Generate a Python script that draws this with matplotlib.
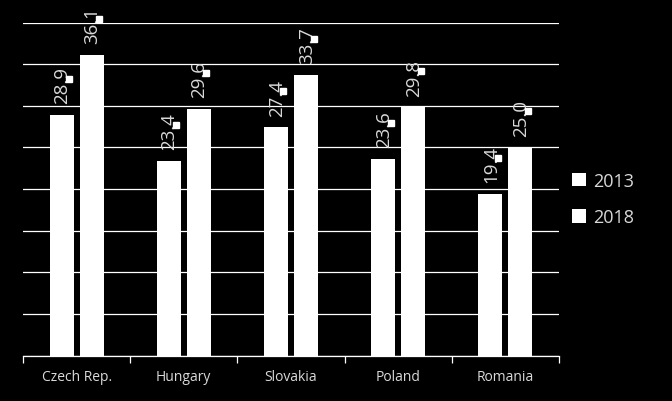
import numpy as np
import matplotlib
matplotlib.use("Agg")
import matplotlib.pyplot as plt
from matplotlib.transforms import ScaledTranslation

plt.rcParams["font.family"] = ["Open Sans", "DejaVu Sans"]

countries = ["Czech Rep.", "Hungary", "Slovakia", "Poland", "Romania"]
years = ["2013", "2018"]
vals_2013 = [28.9, 23.4, 27.4, 23.6, 19.4]
vals_2018 = [36.1, 29.6, 33.7, 29.8, 25.0]

bg = "#000000"
fg = "#D9D9D9"
bar_c = "#FFFFFF"

fig = plt.figure(figsize=(6.72, 4.02), dpi=100, facecolor=bg)
ax = fig.add_axes([23/672, 45.5/402, 536/672, 333/402], facecolor=bg)

x = np.arange(len(countries))
w = 0.224
offs = [-0.14, 0.14]

for k, (yr, vals) in enumerate(zip(years, [vals_2013, vals_2018])):
    xs = x + offs[k]
    ax.bar(xs, vals, width=w, color=bar_c, label=yr, zorder=3)
    for xi, v in zip(xs, vals):
        ax.annotate("%.1f" % v, (xi, v), xytext=(0.5, 8.5), textcoords="offset points",
                    rotation=90, ha="center", va="bottom", color=fg, fontsize=13.5)
    # small square markers beside the labels
    tr = ax.transData + ScaledTranslation(7.5/100, 36/100, fig.dpi_scale_trans)
    ax.plot(xs, vals, ls="none", marker="s", ms=4.3, color=bar_c, mec=bar_c,
            transform=tr, zorder=4, clip_on=False)

ax.set_ylim(0, 40)
ax.set_xlim(-0.5, len(countries) - 0.5)
ax.set_yticks(np.arange(0, 41, 5))
ax.yaxis.grid(True, color="#FFFFFF", lw=0.9, zorder=0)
ax.tick_params(axis="y", length=0, labelleft=False)

ax.set_xticks(x)
ax.set_xticklabels(countries, color=fg, fontsize=10)
ax.tick_params(axis="x", which="major", length=0, pad=10)
ax.set_xticks(np.arange(-0.5, len(countries), 1), minor=True)
ax.tick_params(axis="x", which="minor", length=5, color="#FFFFFF", width=0.9, direction="out")

for s in ["top", "right", "left"]:
    ax.spines[s].set_visible(False)
ax.spines["bottom"].set_color("#FFFFFF")
ax.spines["bottom"].set_linewidth(0.9)

leg = ax.legend(loc="center left", bbox_to_anchor=(572/672, 0.502), bbox_transform=fig.transFigure,
                frameon=False, fontsize=13, handlelength=0.75, handleheight=0.75,
                handletextpad=0.4, labelspacing=1.0, borderpad=0, borderaxespad=0)
for t in leg.get_texts():
    t.set_color(fg)

fig.savefig("out.png", dpi=100, facecolor=bg)
